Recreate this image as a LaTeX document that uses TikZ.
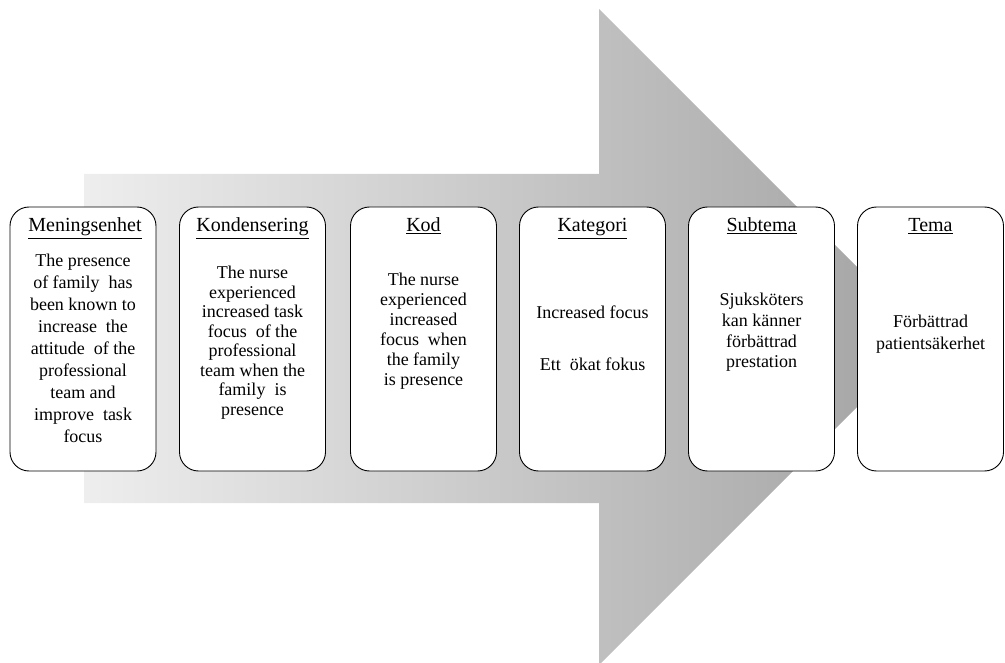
\documentclass[tikz,border=0pt]{standalone}
\usepackage{fontspec}
\setmainfont{Liberation Serif}
\usepackage{xcolor}
\definecolor{arrowlight}{HTML}{EEEEEE}
\definecolor{arrowdark}{HTML}{A2A2A2}
\begin{document}
\begin{tikzpicture}[x=1pt, y=-1pt,
  box/.style={draw=black, line width=0.9pt, fill=white, rounded corners=19pt, minimum width=146pt, minimum height=264pt, inner sep=0pt},
  head/.style={anchor=base, inner sep=0pt, font=\fontsize{20}{24}\selectfont},
  body/.style={anchor=north, inner sep=0pt, align=center, font=\fontsize{18}{#1}\selectfont},
  body/.default=22]
\useasboundingbox (0, 0) rectangle (1005, 663);
\shade [left color=arrowlight, right color=arrowdark] (84, 174) -- (599, 174) -- (599, 9) -- (927, 337) -- (599, 665) -- (599, 503) -- (84, 503) -- cycle;
%Boxes
\node [box] (mening) at (83, 339) {};
\node [box] (konden) at (252.5, 339) {};
\node [box] (kod) at (423.5, 339) {};
\node [box] (kateg) at (592.5, 339) {};
\node [box] (subtema) at (761.5, 339) {};
\node [box] (tema) at (930.5, 339) {};
%Text
\node [head] (meningH) at (85, 232) {\underline{Meningsenhet}};
\node [head] (kondenH) at (252.5, 232) {\underline{Kondensering}};
\node [head] (kodH) at (423.5, 232) {\underline{Kod}};
\node [head] (kategH) at (592.5, 232) {\underline{Kategori}};
\node [head] (subtemaH) at (761.5, 232) {\underline{Subtema}};
\node [head] (temaH) at (930.5, 232) {\underline{Tema}};
\node [body] (meningB) at (83, 254) {The presence\\of family\ \ has\\been known to\\increase\ \ the\\attitude\ \ of the\\professional\\team and\\improve\ \ task\\focus};
\node [body=19.5] (kondenB) at (252.5, 266) {The nurse\\experienced\\increased task\\focus\ \ of the\\professional\\team when the\\family\ \ is\\presence};
\node [body=20] (kodB) at (423.5, 273) {The nurse\\experienced\\increased\\focus\ \ when\\the family\\is presence};
\node [body] (kategB) at (592.5, 306) {Increased focus\\[30pt]Ett\ \ ökat fokus};
\node [body=20.7] (subtemaB) at (761.5, 293) {Sjuksköters\\kan känner\\förbättrad\\prestation};
\node [body=21.5] (temaB) at (930.5, 315) {Förbättrad\\patientsäkerhet};
\end{tikzpicture}
\end{document}
